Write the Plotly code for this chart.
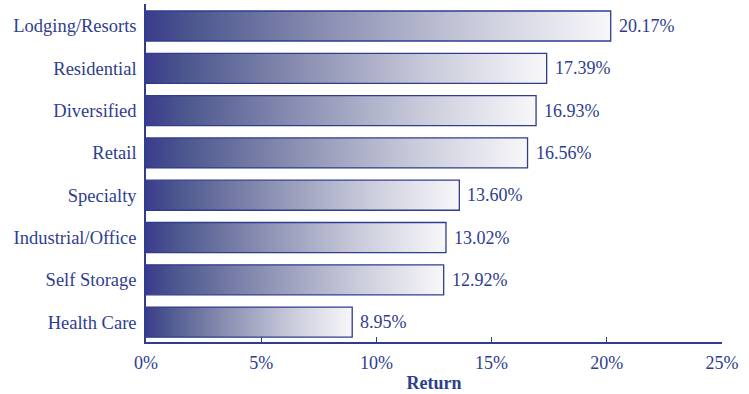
import plotly.graph_objects as go

# REIT sector returns (percent), listed bottom to top
sectors = ["Health Care", "Self Storage", "Industrial/Office", "Specialty",
           "Retail", "Diversified", "Residential", "Lodging/Resorts"]
returns = [8.95, 12.92, 13.02, 13.60, 16.56, 16.93, 17.39, 20.17]
x_ticks = [0, 5, 10, 15, 20, 25]
x_tick_labels = ["0%", "5%", "10%", "15%", "20%", "25%"]

NAVY = "#2e3d8f"
FONT = "Liberation Serif, Times New Roman, serif"
HALF = 0.355  # half bar thickness in category units

gradient = [[0.0, "#3c3c8c"], [0.1, "#4c578e"], [0.4, "#8d91b3"],
            [0.7, "#c8cada"], [1.0, "#f8f8fa"]]

fig = go.Figure()

for i, (name, v) in enumerate(zip(sectors, returns)):
    fig.add_trace(go.Scatter(
        x=[0, v, v, 0, 0],
        y=[i - HALF, i - HALF, i + HALF, i + HALF, i - HALF],
        mode="lines",
        fill="toself",
        fillgradient=dict(type="horizontal", colorscale=gradient),
        line=dict(color=NAVY, width=1.3),
        name=name,
        showlegend=False,
        hoverinfo="skip",
    ))

# value labels to the right of each bar
for i, v in enumerate(returns):
    fig.add_annotation(
        x=v, y=i, text=f"{v:.2f}%", showarrow=False,
        xanchor="left", yanchor="middle", xshift=6,
        font=dict(family=FONT, size=18, color=NAVY),
    )

fig.update_layout(
    width=749, height=394,
    margin=dict(l=146, r=27, t=4, b=52),
    paper_bgcolor="white", plot_bgcolor="white",
    font=dict(family=FONT, size=18, color=NAVY),
    xaxis=dict(
        range=[0, 25], tickvals=x_ticks, ticktext=x_tick_labels,
        showgrid=False, zeroline=False,
        showline=True, linecolor=NAVY, linewidth=1.5,
        ticks="inside", ticklen=5, tickcolor=NAVY, tickwidth=1.3,
        ticklabelstandoff=4,
        tickfont=dict(family=FONT, size=18, color=NAVY),
        title=dict(text="<b>Return</b>", standoff=4,
                   font=dict(family=FONT, size=18, color=NAVY)),
    ),
    yaxis=dict(
        range=[-0.47, 7.52], tickvals=list(range(len(sectors))), ticktext=sectors,
        showgrid=False, zeroline=False,
        showline=True, linecolor=NAVY, linewidth=1.5,
        ticks="", ticklabelstandoff=4,
        tickfont=dict(family=FONT, size=18.5, color=NAVY),
    ),
)

fig.write_html("out.html")
